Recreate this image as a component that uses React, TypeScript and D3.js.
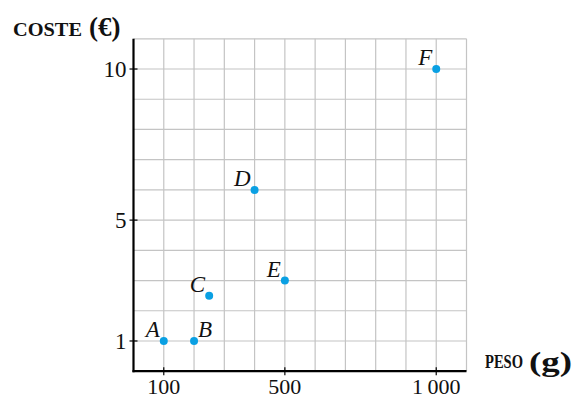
import React from "react";
import * as d3 from "d3";

const pointNames = ["A", "B", "C", "D", "E", "F"];
const pesoValues = [100, 200, 250, 400, 500, 1000];
const costeValues = [1, 1, 2.5, 6, 3, 10];
const xTickValues = [100, 500, 1000];
const yTickValues = [1, 5, 10];
const xTickLabels = ["100", "500", "1\u2009000"];
const yTickLabels = ["1", "5", "10"];

const W = 579;
const H = 400;
const serif = "'Liberation Serif', 'DejaVu Serif', serif";

export default function App() {
  const x = d3.scaleLinear().domain([0, 1100]).range([133.5, 466.5]);
  const y = d3.scaleLinear().domain([0, 11]).range([371.2, 38.8]);
  const gridX = d3.range(100, 1101, 100);
  const gridY = d3.range(1, 12, 1);

  // which side of its dot each letter sits on
  const labelSide: Record<string, "left" | "right"> = {
    A: "left", B: "right", C: "left", D: "left", E: "left", F: "left",
  };

  return (
    <svg width={W} height={H} style={{ position: "absolute", left: 0, top: 0, background: "#fff" }}>
      {/* grid */}
      <g stroke="#c4c4c4" strokeWidth={1.2}>
        {gridX.map((v) => (
          <line key={"gx" + v} x1={x(v)} x2={x(v)} y1={y(11)} y2={y(0)} />
        ))}
        {gridY.map((v) => (
          <line key={"gy" + v} x1={x(0)} x2={x(1100)} y1={y(v)} y2={y(v)} />
        ))}
      </g>
      {/* axes */}
      <line x1={x(0)} x2={x(0)} y1={y(11)} y2={y(0) + 1} stroke="#000" strokeWidth={2.2} />
      <line x1={x(0) - 1} x2={x(1100)} y1={y(0)} y2={y(0)} stroke="#000" strokeWidth={2.2} />
      {/* ticks */}
      {xTickValues.map((v, i) => (
        <g key={"xt" + v}>
          <line x1={x(v)} x2={x(v)} y1={y(0) - 4} y2={y(0) + 4} stroke="#000" strokeWidth={1.2} />
          <text x={x(v)} y={394} textAnchor="middle" fontFamily={serif} fontSize={22} fill="#111">
            {xTickLabels[i]}
          </text>
        </g>
      ))}
      {yTickValues.map((v, i) => (
        <g key={"yt" + v}>
          <line x1={x(0) - 4} x2={x(0) + 4} y1={y(v)} y2={y(v)} stroke="#000" strokeWidth={1.2} />
          <text x={x(0) - 7} y={y(v) + 8} textAnchor="end" fontFamily={serif} fontSize={23} fill="#111">
            {yTickLabels[i]}
          </text>
        </g>
      ))}
      {/* axis titles */}
      <text x={13} y={36} fontFamily={serif} fontWeight="bold" fontSize={18} fill="#111"
        textLength={69} lengthAdjust="spacingAndGlyphs">COSTE</text>
      <text x={89} y={36} fontFamily={serif} fontWeight="bold" fontSize={27} fill="#111">(€)</text>
      <text x={485} y={368} fontFamily={serif} fontWeight="bold" fontSize={18} fill="#111"
        textLength={38} lengthAdjust="spacingAndGlyphs">PESO</text>
      <text x={529} y={371} fontFamily={serif} fontWeight="bold" fontSize={27} fill="#111"
        textLength={43} lengthAdjust="spacingAndGlyphs">(g)</text>
      {/* points */}
      {pointNames.map((n, i) => {
        const cx = x(pesoValues[i]);
        const cy = y(costeValues[i]);
        const side = labelSide[n];
        return (
          <g key={n}>
            <circle cx={cx} cy={cy} r={4} fill="#0aa0e3" />
            <text
              x={side === "left" ? cx - 4 : cx + 4}
              y={cy - 4}
              textAnchor={side === "left" ? "end" : "start"}
              fontFamily={serif}
              fontStyle="italic"
              fontSize={23}
              fill="#111"
            >
              {n}
            </text>
          </g>
        );
      })}
    </svg>
  );
}
